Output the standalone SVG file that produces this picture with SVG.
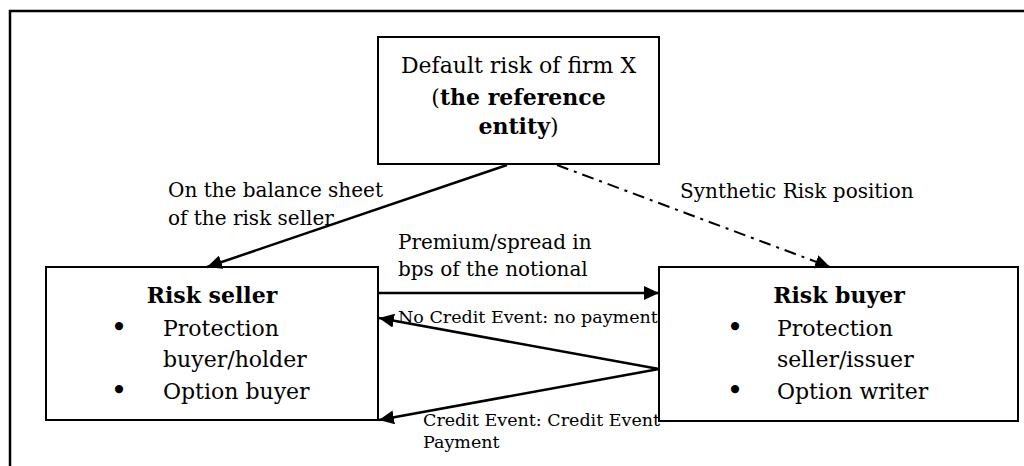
<svg xmlns="http://www.w3.org/2000/svg" width="1024" height="466" viewBox="0 0 1024 466">
<style>
  text { font-family: "DejaVu Serif", "Liberation Serif", serif; fill: #000; }
  .box { fill: #fff; stroke: #000; stroke-width: 2; }
  .t22 { font-size: 22px; }
  .b21 { font-size: 22px; font-weight: bold; }
  .lbl { font-size: 20px; }
  .sm { font-size: 17.5px; }
  .con { fill: none; stroke: #000; stroke-width: 2.5; }
  .dd { stroke-dasharray: 12 6 3 6; stroke-width: 2; }
  .bul { font-size: 28px; text-anchor: middle; }
</style>
<defs>
  <marker id="ah" markerUnits="userSpaceOnUse" markerWidth="16" markerHeight="14" refX="15" refY="7" orient="auto">
    <path d="M0,0 L15,7 L0,14 z" fill="#000"/>
  </marker>
</defs>
<rect width="1024" height="466" fill="#fff"/>
<path d="M10,466 V11 H1024" fill="none" stroke="#000" stroke-width="2.5"/>

<g id="node-reference">
  <rect class="box" x="378" y="37" width="281" height="127"/>
  <text class="t22" x="518.5" y="73" text-anchor="middle">Default risk of firm X</text>
  <text class="t22" x="518.5" y="105" text-anchor="middle">(<tspan font-weight="bold">the reference</tspan></text>
  <text class="t22" x="518.5" y="134" text-anchor="middle"><tspan font-weight="bold">entity</tspan>)</text>
</g>

<g id="node-seller">
  <rect class="box" x="46" y="267" width="332" height="153"/>
  <text class="b21" x="212" y="303" text-anchor="middle">Risk seller</text>
  <text class="bul" x="119" y="337">•</text>
  <text class="t22" x="163" y="336">Protection</text>
  <text class="t22" x="163" y="367">buyer/holder</text>
  <text class="bul" x="119" y="400">•</text>
  <text class="t22" x="163" y="399">Option buyer</text>
</g>

<g id="node-buyer">
  <rect class="box" x="659" y="267" width="359" height="154"/>
  <text class="b21" x="839" y="303" text-anchor="middle">Risk buyer</text>
  <text class="bul" x="735" y="337">•</text>
  <text class="t22" x="777" y="336">Protection</text>
  <text class="t22" x="777" y="367">seller/issuer</text>
  <text class="bul" x="735" y="400">•</text>
  <text class="t22" x="777" y="399">Option writer</text>
</g>

<g id="connectors">
  <line class="con" x1="507" y1="165" x2="207" y2="267" marker-end="url(#ah)"/>
  <line class="con dd" x1="557" y1="165" x2="830" y2="267" marker-end="url(#ah)"/>
  <line class="con" x1="378" y1="293" x2="659" y2="293" marker-end="url(#ah)"/>
  <line class="con" x1="659" y1="369" x2="379" y2="318" marker-end="url(#ah)"/>
  <line class="con" x1="659" y1="369" x2="379" y2="420" marker-end="url(#ah)"/>
</g>

<g id="labels">
  <text class="lbl" x="168" y="197">On the balance sheet</text>
  <text class="lbl" x="168" y="225">of the risk seller</text>
  <text class="lbl" x="680" y="198">Synthetic Risk position</text>
  <text class="lbl" x="398" y="249">Premium/spread in</text>
  <text class="lbl" x="398" y="276">bps of the notional</text>
  <text class="sm" x="398" y="323">No Credit Event: no payment</text>
  <text class="sm" x="423" y="426">Credit Event: Credit Event</text>
  <text class="sm" x="423" y="448">Payment</text>
</g>
</svg>
